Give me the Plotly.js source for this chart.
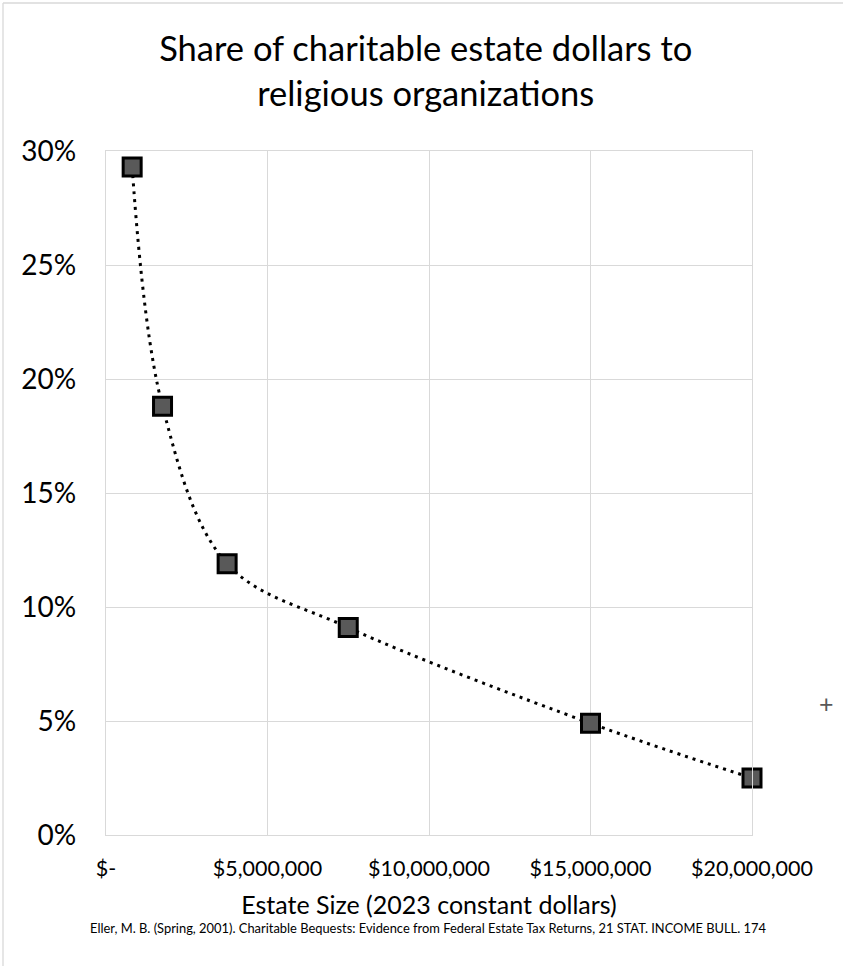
<!DOCTYPE html>
<html>
<head>
<meta charset="utf-8">
<script src="https://cdn.plot.ly/plotly-3.0.1.min.js"></script>
<style>
html,body{margin:0;padding:0;background:#fff;}
#chart{width:843px;height:966px;}
</style>
</head>
<body>
<div id="chart"></div>
<script>
// Data
const estateSize = [810000, 1750000, 3750000, 7500000, 15000000, 20000000];
const religiousShare = [29.3, 18.8, 11.9, 9.1, 4.9, 2.5];

const xTickVals = [0, 5000000, 10000000, 15000000, 20000000];
const xTickText = ["$-", "$5,000,000", "$10,000,000", "$15,000,000", "$20,000,000"];
const yTickVals = [0, 5, 10, 15, 20, 25, 30];
const yTickText = ["0%", "5%", "10%", "15%", "20%", "25%", "30%"];

const titleText = "Share of charitable estate dollars to<br>religious organizations";
const xTitleText = "Estate Size (2023 constant dollars)";
const sourceText = "Eller, M. B. (Spring, 2001). Charitable Bequests: Evidence from Federal Estate Tax Returns, 21 STAT. INCOME BULL. 174";

const FONT = "Lato, 'Liberation Sans', sans-serif";
const GRID = "#d9d9d9";

const trace = {
  type: "scatter",
  mode: "lines+markers",
  x: estateSize,
  y: religiousShare,
  line: {color: "#000", width: 3, dash: "3px,5px", shape: "spline", smoothing: 1},
  marker: {symbol: "square", size: 18, color: "#595959", line: {color: "#000", width: 3}},
  cliponaxis: false,
  hoverinfo: "x+y",
  showlegend: false
};

const W = 843, H = 966;
const L = 106, R = 91, T = 151, B = 131;
const pw = W - L - R, ph = H - T - B;
const px = v => (v - L) / pw;
const py = v => (H - B - v) / ph;

const layout = {
  width: W, height: H,
  margin: {l: L, r: R, t: T, b: B, pad: 0},
  paper_bgcolor: "#fff",
  plot_bgcolor: "#fff",
  font: {family: FONT, color: "#000"},
  title: {
    text: titleText,
    font: {family: FONT, size: 34.5, color: "#000"},
    x: 0.505, xref: "container", xanchor: "center",
    y: 1 - 61 / H, yref: "container", yanchor: "top"
  },
  xaxis: {
    range: [0, 20000000],
    tickmode: "array", tickvals: xTickVals, ticktext: xTickText,
    tickfont: {family: FONT, size: 21.5, color: "#000"},
    showgrid: true, gridcolor: GRID, gridwidth: 1.3,
    showline: true, linecolor: GRID, linewidth: 1.3, mirror: true,
    zeroline: false, ticks: "", ticklabelstandoff: 14,
    title: {text: xTitleText, font: {family: FONT, size: 25, color: "#000"}, standoff: 16},
    fixedrange: true
  },
  yaxis: {
    range: [0, 30],
    tickmode: "array", tickvals: yTickVals, ticktext: yTickText,
    tickfont: {family: FONT, size: 28, color: "#000"},
    showgrid: true, gridcolor: GRID, gridwidth: 1.3,
    showline: true, linecolor: GRID, linewidth: 1.3, mirror: true,
    zeroline: false, ticks: "", ticklabelstandoff: 23,
    fixedrange: true
  },
  annotations: [
    {text: sourceText, xref: "paper", yref: "paper", x: px(428), y: py(928),
     xanchor: "center", yanchor: "middle", showarrow: false,
     font: {family: FONT, size: 12.9, color: "#000"}},
    {text: "+", xref: "paper", yref: "paper", x: px(826), y: py(703),
     xanchor: "center", yanchor: "middle", showarrow: false,
     font: {family: FONT, size: 25, color: "#595959"}}
  ],
  shapes: [
    {type: "line", xref: "paper", yref: "paper", x0: px(3), x1: px(3), y0: py(H + 5), y1: py(3),
     line: {color: GRID, width: 1.3}},
    {type: "line", xref: "paper", yref: "paper", x0: px(3), x1: px(W + 5), y0: py(3), y1: py(3),
     line: {color: GRID, width: 1.3}}
  ]
};

Plotly.newPlot("chart", [trace], layout, {displayModeBar: false, staticPlot: false});
</script>
</body>
</html>
